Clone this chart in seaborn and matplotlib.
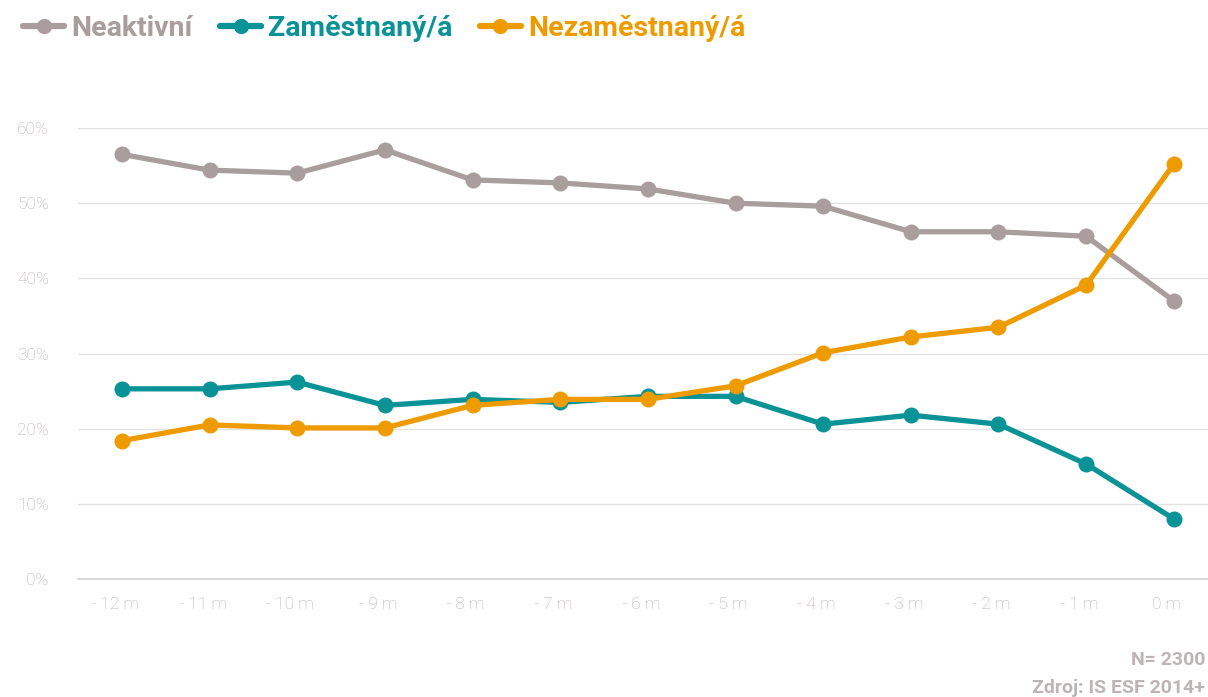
import pandas as pd
import matplotlib.pyplot as plt
import matplotlib.transforms as mtransforms
import seaborn as sns
from matplotlib.ticker import FuncFormatter

# =========================
# Data
# =========================
months = ["- 12 m", "- 11 m", "- 10 m", "- 9 m", "- 8 m", "- 7 m", "- 6 m",
          "- 5 m", "- 4 m", "- 3 m", "- 2 m", "- 1 m", "0 m"]
neaktivni = [56.5, 54.4, 54.0, 57.1, 53.1, 52.7, 51.9, 50.0, 49.6, 46.2, 46.2, 45.6, 37.0]
zamestnany = [25.3, 25.3, 26.2, 23.1, 23.9, 23.5, 24.3, 24.3, 20.6, 21.8, 20.6, 15.3, 8.0]
nezamestnany = [18.4, 20.5, 20.1, 20.1, 23.1, 23.9, 23.9, 25.7, 30.1, 32.2, 33.5, 39.1, 55.2]

series_names = ["Neaktivní", "Zaměstnaný/á", "Nezaměstnaný/á"]
colors = ["#a99d9d", "#0a9396", "#ee9b00"]
y_ticks = [0, 10, 20, 30, 40, 50, 60]

df = pd.DataFrame({
    "x": list(range(len(months))) * 3,
    "value": neaktivni + zamestnany + nezamestnany,
    "series": [s for s in series_names for _ in months],
})

sns.set_theme(style="white")
plt.rcParams["font.family"] = ["Roboto", "DejaVu Sans"]

fig = plt.figure(figsize=(12.08, 6.97), dpi=100)
ax = fig.add_axes([0.0646, 0.1693, 0.9354, 0.647])

sns.lineplot(data=df, x="x", y="value", hue="series", hue_order=series_names,
             palette=colors, marker="o", markersize=11.5, markeredgewidth=0,
             linewidth=3.8, ax=ax, legend=False, zorder=3)

ax.set_xlim(-0.5, 12.39)
ax.set_ylim(0, 60)
ax.set_yticks(y_ticks)
ax.yaxis.set_major_formatter(FuncFormatter(lambda v, p: f"{v:.0f}%"))
ax.set_xticks(range(len(months)))
ax.set_xticklabels(months)
ax.grid(axis="y", color="#e3e3e3", linewidth=1)
ax.set_axisbelow(True)
for side in ["top", "right", "left"]:
    ax.spines[side].set_visible(False)
ax.spines["bottom"].set_color("#d6d6d6")
ax.spines["bottom"].set_linewidth(1.3)
ax.tick_params(axis="both", length=0, labelsize=12.5, labelcolor="#b9adad")
ax.tick_params(axis="x", pad=13)
ax.tick_params(axis="y", pad=21)
# x labels sit a little left of the points in the reference
shift = mtransforms.ScaledTranslation(-7 / 100, 0, fig.dpi_scale_trans)
for lab in ax.get_xticklabels():
    lab.set_transform(lab.get_transform() + shift)
for lab in ax.get_xticklabels() + ax.get_yticklabels():
    lab.set_fontweight("light")
ax.set_xlabel("")
ax.set_ylabel("")

# Legend at top left
handles = [plt.Line2D([], [], color=c, linewidth=4.5, marker="o", markersize=11,
                      markeredgewidth=0) for c in colors]
leg = fig.legend(handles, series_names, loc="upper left", bbox_to_anchor=(-0.002, 1.015),
                 ncol=3, frameon=False, handlelength=1.45, handletextpad=0.25,
                 columnspacing=0.95, prop={"size": 20.5, "weight": "bold"})
for t, c in zip(leg.get_texts(), colors):
    t.set_color(c)

# Footer
fig.text(1205 / 1208, 1 - 660 / 697, "N= 2300", fontsize=14, fontweight="bold",
         color="#bdb5b5", ha="right", va="center")
fig.text(1205 / 1208, 1 - 688 / 697, "Zdroj: IS ESF 2014+", fontsize=14,
         fontweight="bold", color="#bdb5b5", ha="right", va="center")

plt.savefig("out.png", dpi=100)
